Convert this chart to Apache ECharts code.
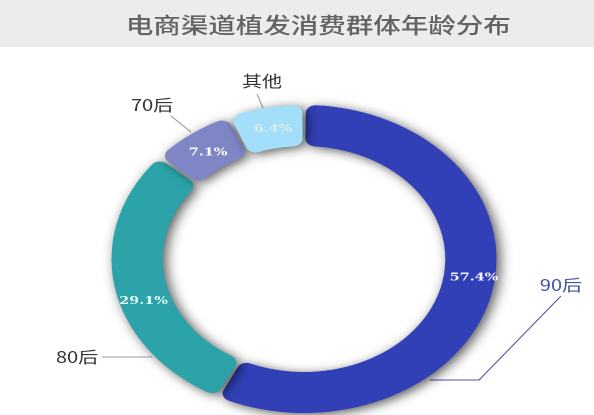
<!DOCTYPE html>
<html>
<head>
<meta charset="utf-8">
<style>
  html, body { margin: 0; padding: 0; width: 594px; height: 415px; overflow: hidden; background: #fff; }
  /* the reference ring is an ellipse, everything in it is stretched sideways */
  #main { width: 475.2px; height: 415px; transform: scaleX(1.25); transform-origin: 0 0; }
</style>
</head>
<body>
<div id="main"></div>
<script src="https://cdn.jsdelivr.net/npm/echarts@6/dist/echarts.min.js"></script>
<script>
const stretch = 1.25
const titleText = '电商渠道植发消费群体年龄分布'
const groups = ['90后', '80后', '70后', '其他']
const shares = [57.4, 29.1, 7.1, 6.4]
const colors = ['#3140b6', '#2ba3a8', '#7f86c6', '#a3dffb']
const shareColors = ['#f4f6ff', '#e6fbf8', '#ffffff', '#dceee6']
const groupColors = ['#44509f', '#333333', '#333333', '#333333']
const lineColors = ['#5a50aa', '#a0a0a0', '#a0a0a0', '#a0a0a0']

// percent label nudges and callouts, in reference pixels
const shareNudges = [[4, -13], [7, 16], [4, 4], [3, 4]]
const calloutLabels = [[561, 285], [77, 357], [152, 105], [262, 81]]
const calloutLines = [
  [[561, 296], [479, 380], [430, 380]],
  [[102, 357], [152, 357]],
  [[171, 116], [191, 132]],
  [[257, 94], [263, 108]]
]

const rows = groups.map((name, i) => ({ name, value: shares[i] }))
const cx = 304 / stretch
const cy = 259
const chart = echarts.init(document.getElementById('main'), null, { devicePixelRatio: 2 })

chart.setOption({
  animation: false,
  backgroundColor: '#fff',
  title: {
    text: titleText,
    left: 312 / stretch,
    top: 9,
    textAlign: 'center',
    textStyle: { fontFamily: 'Noto Sans CJK SC', fontSize: 22, fontWeight: 500, color: '#636363' }
  },
  graphic: [{
    type: 'rect',
    z: -1,
    shape: { x: 0, y: 0, width: 594 / stretch, height: 47 },
    style: { fill: '#ececec' }
  }],
  series: [
    {
      // callouts only, the ring itself is drawn by the next series
      type: 'pie',
      center: [cx, cy],
      radius: [113, 154],
      startAngle: 90,
      silent: true,
      z: 1,
      data: rows.map((row, i) => ({
        ...row,
        itemStyle: { color: 'transparent' },
        label: { color: groupColors[i] },
        labelLine: { lineStyle: { color: lineColors[i], width: 1 } }
      })),
      label: {
        show: true,
        position: 'outside',
        overflow: 'none',
        width: 60,
        fontFamily: 'Noto Sans CJK SC',
        fontSize: 16,
        formatter: '{b}'
      },
      labelLine: { show: true },
      labelLayout: p => ({
        x: calloutLabels[p.dataIndex][0] / stretch,
        y: calloutLabels[p.dataIndex][1],
        align: 'center',
        verticalAlign: 'middle',
        labelLinePoints: calloutLines[p.dataIndex].map(pt => [pt[0] / stretch, pt[1]])
      })
    },
    {
      type: 'pie',
      center: [cx, cy],
      radius: [113, 154],
      startAngle: 90,
      padAngle: 1,
      silent: true,
      z: 2,
      data: rows.map((row, i) => ({
        ...row,
        itemStyle: { color: colors[i] },
        label: { color: shareColors[i] }
      })),
      itemStyle: {
        borderRadius: 8,
        shadowBlur: 10,
        shadowOffsetX: 3,
        shadowOffsetY: 2,
        shadowColor: 'rgba(0,0,0,0.65)'
      },
      label: {
        show: true,
        position: 'inside',
        fontFamily: 'DejaVu Serif',
        fontWeight: 'bold',
        fontSize: 11.5,
        formatter: p => p.value.toFixed(1) + '%'
      },
      labelLine: { show: false },
      labelLayout: p => ({
        dx: shareNudges[p.dataIndex][0] / stretch,
        dy: shareNudges[p.dataIndex][1]
      })
    }
  ]
})
</script>
</body>
</html>
